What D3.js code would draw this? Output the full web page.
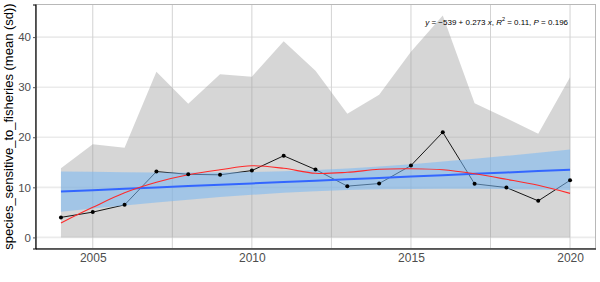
<!DOCTYPE html>
<html lang="en">

<head>
    <meta charset="UTF-8" />
    <title>species_sensitive_to_fisheries</title>
    <script src="https://d3js.org/d3.v7.min.js"></script>
    <style>
        body { margin: 0; background: #ffffff; }
        text { font-family: "Liberation Sans", Arial, sans-serif; }
    </style>
</head>

<body>
    <script>
        var years = [2004, 2005, 2006, 2007, 2008, 2009, 2010, 2011, 2012, 2013, 2014, 2015, 2016, 2017, 2018, 2019, 2020];
        var meanVals = [4.0, 5.05, 6.5, 13.15, 12.6, 12.5, 13.35, 16.3, 13.55, 10.24, 10.76, 14.35, 21.0, 10.7, 9.96, 7.3, 11.4];
        var upperVals = [13.8, 18.6, 17.9, 33.1, 26.7, 32.6, 32.1, 39.2, 33.3, 24.7, 28.5, 37.1, 44.3, 26.8, 23.8, 20.7, 32.0];
        var lowerVals = [0, 0, 0, 0, 0, 0, 0, 0, 0, 0, 0, 0, 0, 0, 0, 0, 0];
        var loessVals = [2.9, 6.0, 8.9, 11.0, 12.5, 13.5, 14.3, 13.8, 12.8, 13.0, 13.6, 13.7, 13.5, 12.7, 11.6, 10.4, 8.8];
        var xTicks = [2005, 2010, 2015, 2020];
        var xGrid = [2005, 2007.5, 2010, 2012.5, 2015, 2017.5, 2020];
        var yTicks = [0, 10, 20, 30, 40];
        var yTitle = "species_sensitive_to_fisheries (mean (sd))";
        var eqLabel = { intercept: "\u2212539", slope: "0.273", r2: "0.11", p: "0.196" };
        var tCrit = 2.131; // t(0.975, df = 15)

        var w = 600;
        var h = 282;
        var pLeft = 35.5, pRight = 595.5, pTop = 4.5, pBottom = 248.5;

        var data = years.map(function (y, i) {
            return { year: y, mean: meanVals[i], upper: upperVals[i], lower: lowerVals[i], loess: loessVals[i] };
        });

        // linear model fitted to the means (geom_smooth method = "lm")
        var n = data.length;
        var xBar = d3.mean(years);
        var yBar = d3.mean(meanVals);
        var sxx = d3.sum(years, function (x) { return (x - xBar) * (x - xBar); });
        var sxy = d3.sum(data, function (d) { return (d.year - xBar) * (d.mean - yBar); });
        var slope = sxy / sxx;
        var intercept = yBar - slope * xBar;
        var sse = d3.sum(data, function (d) {
            var r = d.mean - (intercept + slope * d.year);
            return r * r;
        });
        var s = Math.sqrt(sse / (n - 2));

        var fit = years.map(function (x) {
            var yh = intercept + slope * x;
            var se = s * Math.sqrt(1 / n + (x - xBar) * (x - xBar) / sxx);
            return { year: x, fit: yh, lo: yh - tCrit * se, hi: yh + tCrit * se };
        });

        var xMin = d3.min(years), xMax = d3.max(years);
        var xPad = (xMax - xMin) * 0.05;
        var yMin = d3.min(lowerVals), yMax = d3.max(upperVals);
        var yPad = (yMax - yMin) * 0.05;

        var xScale = d3.scaleLinear()
            .domain([xMin - xPad, xMax + xPad])
            .range([pLeft, pRight]);

        var yScale = d3.scaleLinear()
            .domain([yMin - yPad, yMax + yPad])
            .range([pBottom, pTop]);

        var svg = d3.select("body")
            .append("svg")
            .attr("width", w)
            .attr("height", h);

        // grid
        svg.selectAll(".hgrid")
            .data(yTicks)
            .enter()
            .append("line")
            .attr("x1", pLeft).attr("x2", pRight)
            .attr("y1", function (d) { return yScale(d); })
            .attr("y2", function (d) { return yScale(d); })
            .attr("stroke", "#ebebeb")
            .attr("stroke-width", 1.6);

        svg.selectAll(".vgrid")
            .data(xGrid)
            .enter()
            .append("line")
            .attr("x1", function (d) { return xScale(d); })
            .attr("x2", function (d) { return xScale(d); })
            .attr("y1", pTop).attr("y2", pBottom)
            .attr("stroke", "#d3d3d3")
            .attr("stroke-width", 1);

        // mean +/- sd ribbon
        var ribbon = d3.area()
            .x(function (d) { return xScale(d.year); })
            .y0(function (d) { return yScale(d.lower); })
            .y1(function (d) { return yScale(d.upper); });

        svg.append("path")
            .datum(data)
            .attr("d", ribbon)
            .attr("fill", "#999999")
            .attr("fill-opacity", 0.4);

        // mean line
        var meanLine = d3.line()
            .x(function (d) { return xScale(d.year); })
            .y(function (d) { return yScale(d.mean); });

        svg.append("path")
            .datum(data)
            .attr("d", meanLine)
            .attr("fill", "none")
            .attr("stroke", "#000000")
            .attr("stroke-width", 0.9);

        // lm confidence band
        var band = d3.area()
            .x(function (d) { return xScale(d.year); })
            .y0(function (d) { return yScale(d.lo); })
            .y1(function (d) { return yScale(d.hi); });

        svg.append("path")
            .datum(fit)
            .attr("d", band)
            .attr("fill", "#78b8f4")
            .attr("fill-opacity", 0.55);

        var fitLine = d3.line()
            .x(function (d) { return xScale(d.year); })
            .y(function (d) { return yScale(d.fit); });

        svg.append("path")
            .datum(fit)
            .attr("d", fitLine)
            .attr("fill", "none")
            .attr("stroke", "#3366ff")
            .attr("stroke-width", 2);

        // loess
        var loessLine = d3.line()
            .curve(d3.curveCatmullRom.alpha(0.5))
            .x(function (d) { return xScale(d.year); })
            .y(function (d) { return yScale(d.loess); });

        svg.append("path")
            .datum(data)
            .attr("d", loessLine)
            .attr("fill", "none")
            .attr("stroke", "#ff2a2a")
            .attr("stroke-width", 1.1);

        svg.selectAll("circle")
            .data(data)
            .enter()
            .append("circle")
            .attr("cx", function (d) { return xScale(d.year); })
            .attr("cy", function (d) { return yScale(d.mean); })
            .attr("r", 2)
            .attr("fill", "#000000");

        // panel border (top / right) and axis lines
        svg.append("rect")
            .attr("x", pLeft).attr("y", pTop)
            .attr("width", pRight - pLeft).attr("height", pBottom - pTop)
            .attr("fill", "none")
            .attr("stroke", "#b8b8b8")
            .attr("stroke-width", 1);

        var xAxis = d3.axisBottom(xScale).tickValues(xTicks).tickFormat(d3.format("d")).tickSize(0).tickPadding(5);
        var yAxis = d3.axisLeft(yScale).tickValues(yTicks).tickSize(2.5).tickPadding(2);

        var gx = svg.append("g").attr("class", "x axis")
            .attr("transform", "translate(0," + pBottom + ")")
            .call(xAxis);
        gx.select(".domain").attr("stroke", "#333333").attr("stroke-width", 1.3);
        gx.selectAll("text")
            .style("font-size", "12px")
            .style("font-family", "Liberation Sans, Arial, sans-serif")
            .style("fill", "#4d4d4d");

        var gy = svg.append("g").attr("class", "y axis")
            .attr("transform", "translate(" + pLeft + ",0)")
            .call(yAxis);
        gy.select(".domain").attr("stroke", "#000000").attr("stroke-width", 1.2);
        gy.selectAll(".tick line").attr("stroke", "#555555");
        gy.selectAll("text")
            .style("font-size", "11.5px")
            .style("font-family", "Liberation Sans, Arial, sans-serif")
            .style("fill", "#4d4d4d");

        svg.append("text")
            .attr("transform", "translate(13," + ((pTop + pBottom) / 2) + ") rotate(-90)")
            .attr("text-anchor", "middle")
            .attr("font-size", "13px")
            .attr("fill", "#000000")
            .text(yTitle);

        // equation label
        var eq = svg.append("text")
            .attr("x", xScale(2020) - 2)
            .attr("y", 24.5)
            .attr("text-anchor", "end")
            .attr("font-size", "8px")
            .attr("fill", "#000000");
        eq.append("tspan").attr("font-style", "italic").text("y");
        eq.append("tspan").text(" = " + eqLabel.intercept + " + " + eqLabel.slope + " ");
        eq.append("tspan").attr("font-style", "italic").text("x");
        eq.append("tspan").text(", ");
        eq.append("tspan").attr("font-style", "italic").text("R");
        eq.append("tspan").attr("font-size", "5.5px").attr("dy", -3.5).text("2");
        eq.append("tspan").attr("dy", 3.5).text(" = " + eqLabel.r2 + ", ");
        eq.append("tspan").attr("font-style", "italic").text("P");
        eq.append("tspan").text(" = " + eqLabel.p);
    </script>
</body>

</html>
